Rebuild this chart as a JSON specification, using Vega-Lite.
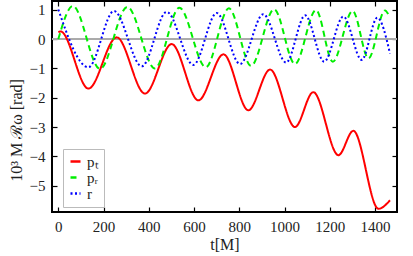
{
  "$schema": "https://vega.github.io/schema/vega-lite/v6.json",
  "width": 345,
  "height": 211,
  "autosize": {"type": "none"},
  "padding": {"left": 52, "top": 1, "right": 16, "bottom": 44},
  "background": "white",
  "config": {
    "view": {"stroke": "black", "strokeWidth": 2},
    "font": "Liberation Serif",
    "axis": {
      "labelFont": "Liberation Serif",
      "titleFont": "Liberation Serif",
      "labelFontSize": 15,
      "titleFontSize": 16,
      "titleFontWeight": "normal",
      "labelColor": "#222",
      "titleColor": "#222",
      "domain": false,
      "grid": false,
      "tickColor": "black",
      "tickSize": -5,
      "tickWidth": 1.2
    },
    "legend": {
      "orient": "none",
      "legendX": 11,
      "legendY": 148,
      "fillColor": "white",
      "strokeColor": "#bbb",
      "padding": 5,
      "labelFont": "Liberation Serif",
      "labelFontSize": 15,
      "labelColor": "#222",
      "symbolType": "stroke",
      "symbolSize": 100,
      "symbolStrokeWidth": 2.5,
      "rowPadding": 0,
      "labelOffset": 4
    }
  },
  "datasets": {
    "curves": [
      {"t": 0, "v": 0.24, "s": "pₜ"},
      {"t": 10, "v": 0.26, "s": "pₜ"},
      {"t": 133, "v": -1.69, "s": "pₜ"},
      {"t": 258, "v": 0.06, "s": "pₜ"},
      {"t": 383, "v": -1.86, "s": "pₜ"},
      {"t": 501, "v": -0.17, "s": "pₜ"},
      {"t": 619, "v": -2.09, "s": "pₜ"},
      {"t": 730, "v": -0.52, "s": "pₜ"},
      {"t": 840, "v": -2.43, "s": "pₜ"},
      {"t": 936, "v": -1.04, "s": "pₜ"},
      {"t": 1046, "v": -3.0, "s": "pₜ"},
      {"t": 1127, "v": -1.81, "s": "pₜ"},
      {"t": 1238, "v": -3.96, "s": "pₜ"},
      {"t": 1304, "v": -3.13, "s": "pₜ"},
      {"t": 1415, "v": -5.79, "s": "pₜ"},
      {"t": 1466, "v": -5.5, "s": "pₜ"},
      {"t": 0, "v": 0.0, "s": "pᵣ"},
      {"t": 64, "v": 1.13, "s": "pᵣ"},
      {"t": 184, "v": -1.02, "s": "pᵣ"},
      {"t": 305, "v": 1.1, "s": "pᵣ"},
      {"t": 427, "v": -1.0, "s": "pᵣ"},
      {"t": 535, "v": 1.07, "s": "pᵣ"},
      {"t": 652, "v": -0.96, "s": "pᵣ"},
      {"t": 754, "v": 1.05, "s": "pᵣ"},
      {"t": 852, "v": -0.91, "s": "pᵣ"},
      {"t": 954, "v": 1.02, "s": "pᵣ"},
      {"t": 1046, "v": -0.85, "s": "pᵣ"},
      {"t": 1139, "v": 0.99, "s": "pᵣ"},
      {"t": 1213, "v": -0.77, "s": "pᵣ"},
      {"t": 1301, "v": 0.96, "s": "pᵣ"},
      {"t": 1371, "v": -0.66, "s": "pᵣ"},
      {"t": 1444, "v": 0.98, "s": "pᵣ"},
      {"t": 1459, "v": 0.84, "s": "pᵣ"},
      {"t": 0, "v": 1.01, "s": "r"},
      {"t": 133, "v": -0.96, "s": "r"},
      {"t": 246, "v": 0.96, "s": "r"},
      {"t": 369, "v": -0.93, "s": "r"},
      {"t": 479, "v": 0.93, "s": "r"},
      {"t": 597, "v": -0.88, "s": "r"},
      {"t": 700, "v": 0.89, "s": "r"},
      {"t": 803, "v": -0.85, "s": "r"},
      {"t": 906, "v": 0.85, "s": "r"},
      {"t": 1007, "v": -0.8, "s": "r"},
      {"t": 1091, "v": 0.81, "s": "r"},
      {"t": 1175, "v": -0.77, "s": "r"},
      {"t": 1260, "v": 0.77, "s": "r"},
      {"t": 1341, "v": -0.71, "s": "r"},
      {"t": 1410, "v": 0.73, "s": "r"},
      {"t": 1466, "v": -0.49, "s": "r"}
    ]
  },
  "data": {"name": "curves"},
  "resolve": {"axis": {"x": "independent", "y": "independent"}},
  "layer": [
    {
      "mark": {"type": "rule", "color": "#aaaaaa", "strokeWidth": 1},
      "encoding": {
        "y": {"datum": 0, "type": "quantitative", "scale": {"domain": [-5.9, 1.3], "nice": false}, "axis": null}
      }
    },
    {
      "mark": {"type": "line", "interpolate": "monotone", "strokeWidth": 2, "clip": true},
      "encoding": {
        "x": {
          "field": "t", "type": "quantitative",
          "scale": {"domain": [-28, 1497], "nice": false, "zero": false},
          "axis": {"orient": "bottom", "values": [0, 200, 400, 600, 800, 1000, 1200, 1400], "format": "d", "title": "t[M]", "labelPadding": 12, "titlePadding": 2}
        },
        "y": {
          "field": "v", "type": "quantitative",
          "scale": {"domain": [-5.9, 1.3], "nice": false},
          "axis": {"orient": "left", "values": [1, 0, -1, -2, -3, -4, -5], "title": "10³ M ℛω [rad]", "labelPadding": 12, "titleX": -28, "titleY": 129, "titleAlign": "center", "titleAngle": -90, "labelExpr": "replace(datum.label, '-', '−')"}
        },
        "color": {
          "field": "s", "type": "nominal",
          "scale": {"domain": ["pₜ", "pᵣ", "r"], "range": ["#ff0000", "#00ee00", "#0000ff"]},
          "legend": {"title": null}
        },
        "strokeDash": {
          "field": "s", "type": "nominal",
          "scale": {"domain": ["pₜ", "pᵣ", "r"], "range": [[1, 0], [6, 4], [2, 2.5]]},
          "legend": {"title": null}
        }
      }
    },
    {
      "mark": {"type": "line", "interpolate": "monotone", "opacity": 0},
      "encoding": {
        "x": {
          "field": "t", "type": "quantitative",
          "scale": {"domain": [-28, 1497], "nice": false, "zero": false},
          "axis": {"orient": "top", "values": [0, 200, 400, 600, 800, 1000, 1200, 1400], "labels": false, "title": null}
        },
        "y": {
          "field": "v", "type": "quantitative",
          "scale": {"domain": [-5.9, 1.3], "nice": false},
          "axis": {"orient": "right", "values": [1, 0, -1, -2, -3, -4, -5], "labels": false, "title": null}
        },
        "detail": {"field": "s", "type": "nominal"}
      }
    }
  ]
}
